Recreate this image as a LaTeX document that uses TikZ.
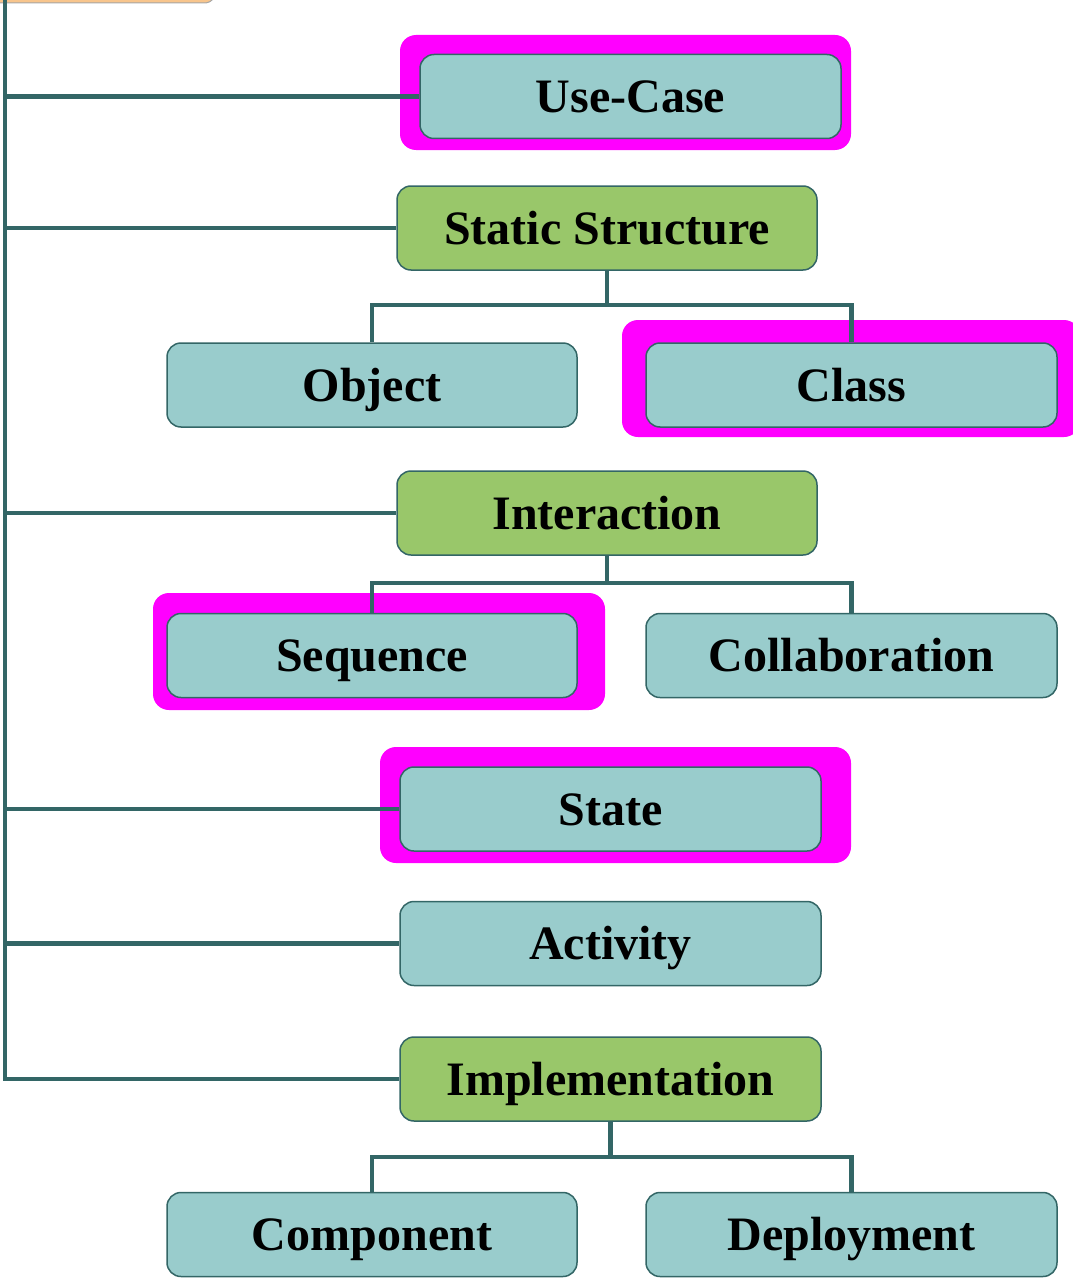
\documentclass[tikz,border=0pt]{standalone}
\usepackage{fontspec}
\setmainfont{Liberation Serif}
\definecolor{linec}{RGB}{51,102,102}
\definecolor{tealf}{RGB}{153,204,204}
\definecolor{greenf}{RGB}{153,199,106}
\definecolor{hilite}{RGB}{255,0,255}
\definecolor{orangef}{RGB}{248,197,140}
\pgfdeclarelayer{halolayer}
\pgfdeclarelayer{linelayer}
\pgfsetlayers{halolayer,linelayer,main}
\begin{document}
\begin{tikzpicture}[x=1pt,y=-1pt,
  box/.style={draw=linec,line width=1.5pt,rounded corners=14pt,fill=tealf,
    minimum width=#1,minimum height=84pt,inner sep=0pt,
    text height=33pt,text depth=1pt,
    font=\fontsize{48}{52}\selectfont\bfseries},
  box/.default=410pt,
  gbox/.style={box=#1,fill=greenf},
  gbox/.default=420pt,
  halo/.style={fill=hilite,rounded corners=16pt},
  conn/.style={draw=linec,line width=4.8pt}]
\useasboundingbox (0,0) rectangle (1072,1279);
% nodes
\node[box=421pt] (uc) at (630.5,96.5) {Use-Case};
\node[gbox] (ss) at (607,228) {Static Structure};
\node[box] (obj) at (372,385) {Object};
\node[box=411pt] (cls) at (851.5,385) {Class};
\node[gbox] (inter) at (607,513) {Interaction};
\node[box] (seq) at (372,655.5) {Sequence};
\node[box=411pt] (coll) at (851.5,655.5) {Collaboration};
\node[box=421pt] (st) at (610.5,809) {State};
\node[box=421pt] (act) at (610.5,943.5) {Activity};
\node[gbox=421pt] (impl) at (610.5,1079) {Implementation};
\node[box] (comp) at (372,1234.5) {Component};
\node[box=411pt] (dep) at (851.5,1234.5) {Deployment};
% junction points
\coordinate (top) at (5,0);
\coordinate (ssj) at (607,305);
\coordinate (inj) at (607,583);
\coordinate (imj) at (610.5,1157);
\begin{pgfonlayer}{halolayer}
  % partial top box
  \fill[orangef,draw=gray!70,line width=1pt] (-10,-20) -- (206,-20) -- (212,-2) -- (212,0) [rounded corners=2pt]-- (208,3) -- (-10,3) -- cycle;
  % highlight halos
  \fill[halo] (400,35) rectangle (851,150);
  \fill[halo] (622,320) rectangle (1080,437);
  \fill[halo] (153,593) rectangle (605,710);
  \fill[halo] (380,747) rectangle (851,863);
\end{pgfonlayer}
\begin{pgfonlayer}{linelayer}
  \draw[conn] (top) |- (impl.west);
  \draw[conn] (top |- uc.west) -- (uc.west);
  \draw[conn] (top |- ss.west) -- (ss.west);
  \draw[conn] (top |- inter.west) -- (inter.west);
  \draw[conn] (top |- st.west) -- (st.west);
  \draw[conn] (top |- act.west) -- (act.west);
  \draw[conn] (ss.south) -- (ssj);
  \draw[conn] (obj.north) |- (ssj) -| (cls.north);
  \draw[conn] (inter.south) -- (inj);
  \draw[conn] (seq.north) |- (inj) -| (coll.north);
  \draw[conn] (impl.south) -- (imj);
  \draw[conn] (comp.north) |- (imj) -| (dep.north);
\end{pgfonlayer}
\end{tikzpicture}
\end{document}
